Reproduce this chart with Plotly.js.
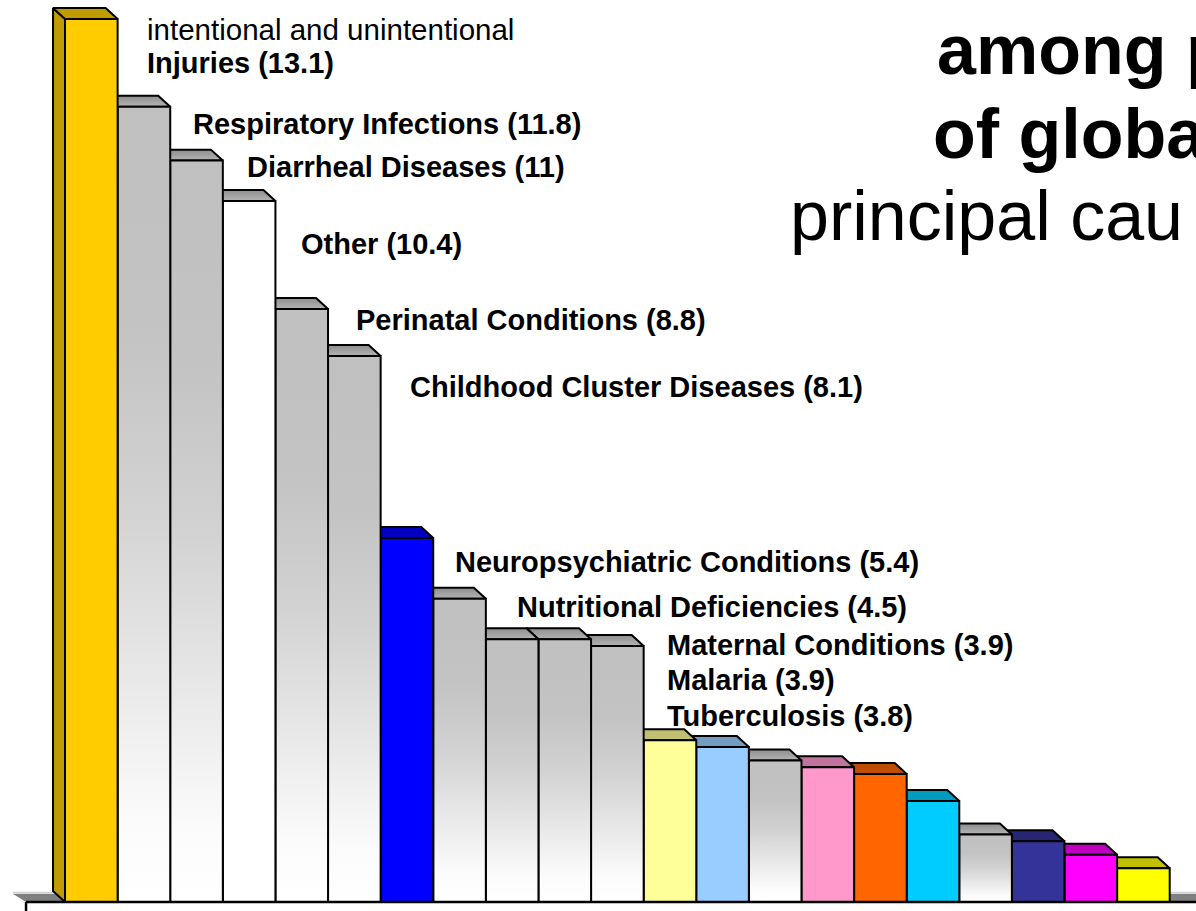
<!DOCTYPE html>
<html>
<head>
<meta charset="utf-8">
<script src="https://cdn.plot.ly/plotly-3.0.1.min.js"></script>
<style>
html,body{margin:0;padding:0;background:#fff;overflow:hidden;}
#chart{width:1196px;height:911px;}
</style>
</head>
<body>
<div id="chart"></div>
<script>
// ---------- data ----------
const categories = ["Injuries","Respiratory Infections","Diarrheal Diseases","Other","Perinatal Conditions",
  "Childhood Cluster Diseases","Neuropsychiatric Conditions","Nutritional Deficiencies","Maternal Conditions",
  "Malaria","Tuberculosis"];
const values = [13.1, 11.8, 11.0, 10.4, 8.8, 8.1, 5.4, 4.5, 3.9, 3.9, 3.8,
                2.4, 2.3, 2.1, 2.0, 1.9, 1.5, 1.0, 0.9, 0.7, 0.5];
const labelTexts = ["<b>Injuries (13.1)</b>","<b>Respiratory Infections (11.8)</b>","<b>Diarrheal Diseases (11)</b>",
  "<b>Other (10.4)</b>","<b>Perinatal Conditions (8.8)</b>","<b>Childhood Cluster Diseases (8.1)</b>",
  "<b>Neuropsychiatric Conditions (5.4)</b>","<b>Nutritional Deficiencies (4.5)</b>","<b>Maternal Conditions (3.9)</b>",
  "<b>Malaria (3.9)</b>","<b>Tuberculosis (3.8)</b>"];
const injuryNote = "intentional and unintentional";
const titleLines = ["<b>among p</b>", "<b>of globa</b>", "principal cau"];

// ---------- styles ----------
const G = "grad";
const frontFill = ["#ffcc00",G,G,"#ffffff",G,G,"#0000ff",G,G,G,G,
                   "#ffff99","#99ccff",G,"#ff99cc","#ff6600","#00ccff",G,"#333399","#ff00ff","#ffff00"];
const topFill   = ["#c09c00",G,G,G,G,G,"#0000c0",G,G,G,G,
                   "#c0c073","#739cc0",G,"#c0739c","#c04c00","#009cc0",G,"#262673","#c000c0","#c0c000"];
const frontGrad = [[0,"#ffffff"],[0.1,"#fbfbfb"],[0.5,"#d2d2d2"],[0.72,"#c3c3c3"],[1,"#c0c0c0"]];
const topGrad   = [[0,"#b4b4b4"],[1,"#8e8e8e"]];
// label positions (pixels)
const labelX = [145,191,245,299,354,408,453,515,665,665,665];
const labelY = [63,124,167,244,320,387,562,607,645,680,716];

const W = 1196, H = 911;
const xr = [-1.736, 21.0];
const yr = [-0.1335, 13.383];
const DX = -0.228, DY = 0.163;       // depth of bars
const FDX = -0.247, FDY = 0.119;     // depth of floor
const floorLeft = -1.241, floorRight = 21.6;

const traces = [];
function poly(xs, ys, fill, lineW, lineC){
  const t = {type:"scatter", mode:"lines", x:xs, y:ys, fill:"toself",
    line:{color:lineC||"#000", width:lineW===undefined?2:lineW}, hoverinfo:"skip", showlegend:false};
  if (fill !== G) t.fillcolor = fill;
  return t;
}
// floor
traces.push(poly([floorLeft, floorRight, floorRight+FDX, floorLeft+FDX, floorLeft],
                 [0, 0, FDY, FDY, 0], "#808080", 0, "rgba(0,0,0,0)"));
traces.push({type:"scatter", mode:"lines", x:[floorLeft+FDX, floorRight+FDX], y:[FDY+0.02, FDY+0.02],
  line:{color:"#d0d0d0", width:2}, hoverinfo:"skip", showlegend:false});

// bars, drawn right to left
for (let i = values.length-1; i >= 0; i--){
  const v = values[i], L = i-0.5, R = i+0.5;
  const side = poly([L, L+DX, L+DX, L, L], [0, DY, v+DY, v, 0], topFill[i]===G ? "#a0a0a0" : topFill[i]);
  traces.push(side);
  const top = poly([L, R, R+DX, L+DX, L], [v, v, v+DY, v+DY, v], topFill[i]);
  if (topFill[i] === G) top.fillgradient = {type:"vertical", colorscale: topGrad};
  traces.push(top);
  const front = poly([L, R, R, L, L], [0, 0, v, v, 0], frontFill[i]);
  if (frontFill[i] === G) front.fillgradient = {type:"vertical", colorscale: frontGrad};
  traces.push(front);
}
// axis line and tick
traces.push({type:"scatter", mode:"lines", x:[floorLeft, floorRight], y:[0,0],
  line:{color:"#000", width:2.5}, hoverinfo:"skip", showlegend:false});
traces.push({type:"scatter", mode:"lines", x:[floorLeft, floorLeft], y:[0, yr[0]],
  line:{color:"#000", width:2.5}, hoverinfo:"skip", showlegend:false});

const FONT = "Liberation Sans, Arial, sans-serif";
const annotations = [];
annotations.push({xref:"paper", yref:"paper", x:145/W, y:1-29/H, xanchor:"left", yanchor:"middle",
  text:injuryNote, showarrow:false, font:{family:FONT, size:29.5, color:"#000"}});
for (let k = 0; k < labelTexts.length; k++){
  annotations.push({xref:"paper", yref:"paper", x:labelX[k]/W, y:1-labelY[k]/H, xanchor:"left", yanchor:"middle",
    text:labelTexts[k], showarrow:false, font:{family:FONT, size:29, color:"#000"}});
}
const titleX = [935, 931, 788];
const titleY = [50, 134, 216];
for (let k = 0; k < titleLines.length; k++){
  annotations.push({xref:"paper", yref:"paper", x:titleX[k]/W, y:1-titleY[k]/H, xanchor:"left", yanchor:"middle",
    text:titleLines[k], showarrow:false, font:{family:FONT, size:70, color:"#000"}});
}

const layout = {
  width: W, height: H,
  margin:{l:0,r:0,t:0,b:0,pad:0},
  paper_bgcolor:"#ffffff", plot_bgcolor:"#ffffff",
  xaxis:{range:xr, visible:false, fixedrange:true},
  yaxis:{range:yr, visible:false, fixedrange:true},
  showlegend:false,
  annotations: annotations
};
Plotly.newPlot("chart", traces, layout, {displayModeBar:false, staticPlot:true});
</script>
</body>
</html>
